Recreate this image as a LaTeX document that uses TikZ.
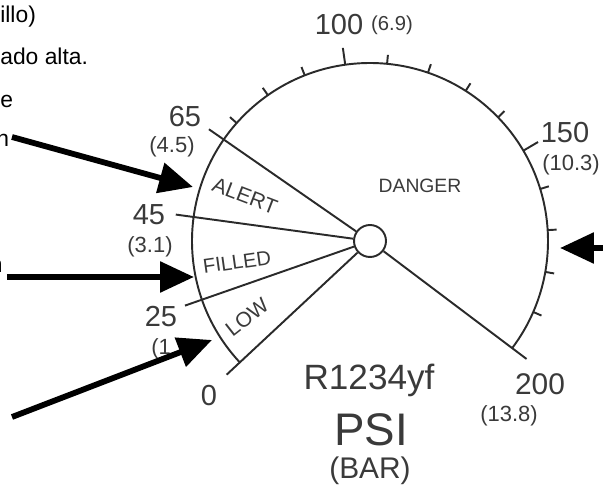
\documentclass[tikz,border=0pt]{standalone}
\usepackage{fontspec}
\setmainfont{Liberation Sans}
\usepackage{tikz}
\usetikzlibrary{arrows.meta,positioning,calc}
\definecolor{dialgray}{HTML}{2A2A2A}
\definecolor{inkgray}{HTML}{3A3A3A}

\begin{document}
\begin{tikzpicture}[
  x=0.02cm,y=0.02cm,
  dial/.style={draw=dialgray,line width=1.1pt},
  psi/.style={font=\fontsize{16.5}{16.5}\selectfont,text=inkgray,inner sep=0pt},
  bar/.style={font=\fontsize{12.5}{12.5}\selectfont,text=inkgray,inner sep=0pt},
  zone/.style={font=\fontsize{#1}{#1}\selectfont,text=inkgray,inner sep=0pt},
  side/.style={font=\fontsize{13}{13}\selectfont,text=black,anchor=base west,inner sep=0pt},
  pointer/.style={line width=3.3pt,-{Triangle[length=0.68cm,width=0.6cm]}},
]
  \useasboundingbox (0,0) rectangle (603,491);
  \clip (0,0) rectangle (603,491);
  \coordinate (c) at (370,250);
  \begin{scope}[shift={(c)}]
    \draw[dial] (223:178) arc[start angle=223,end angle=-37,radius=178];
    \node[circle,dial,minimum size=0.64cm,inner sep=0pt] (hub) at (0,0) {};
    \foreach \a in {223,199.25,172.25,145.25,-37}
      \draw[dial] (hub) -- (\a:196);
    \foreach \p in {100,150}
      \draw[dial] ({233-1.35*\p}:178) -- ({233-1.35*\p}:195);
    \foreach \p in {70,80,90,110,120,130,140,160,170,180,190}
      \draw[dial] ({233-1.35*\p}:178) -- ({233-1.35*\p}:187);
  \end{scope}

  \node[psi] (l65) at (185,374) {65};
  \node[bar] (b65) at (172,344) {(4.5)};
  \node[psi] (l45) at (149,276) {45};
  \node[bar] (b45) at (150,244) {(3.1)};
  \node[psi] (l25) at (161,174) {25};
  \node[bar,anchor=west] (b25) at (151,142) {(1};
  \node[psi] (l0) at (209,95) {0};
  \node[psi] (l100) at (339,466) {100};
  \node[zone=11.5] (b100) at (392,466) {(6.9)};
  \node[psi] (l150) at (565,358) {150};
  \node[bar] (b150) at (571,326) {(10.3)};
  \node[psi,font=\fontsize{17}{17}\selectfont] (l200) at (540,107) {200};
  \node[bar] (b200) at (509,75) {(13.8)};

  \node[zone=11] (danger) at (420,305) {DANGER};
  \node[zone=12,rotate=-21] (alert) at (245,295) {ALERT};
  \node[zone=11.5,rotate=8] (filled) at (237,229) {FILLED};
  \node[zone=12,rotate=38] (low) at (247,174) {LOW};

  \node[zone=20] (gas) at (369,111) {R1234yf};
  \node[zone=26] (unit) at (371,61) {PSI};
  \node[zone=17] (unit2) at (370,20) {(BAR)};

  \node[side] (t1) at (0,468) {illo)};
  \node[side] (t2) at (0,426) {ado alta.};
  \node[side] (t3) at (0,383) {e};
  \node[side] (t4) at (-4,344) {n};
  \node[side,anchor=base east] (t5) at (3,218) {n};

  \coordinate (a1) at (12,354);
  \coordinate (a1tip) at (193,304);
  \coordinate (a2) at (7,214);
  \coordinate (a2tip) at (194,214);
  \coordinate (a3) at (12,74);
  \coordinate (a3tip) at (212,151);
  \coordinate (a4) at (615,243);
  \coordinate (a4tip) at (560,243);
  \draw[pointer] (a1) -- (a1tip);
  \draw[pointer] (a2) -- (a2tip);
  \draw[pointer] (a3) -- (a3tip);
  \draw[pointer] (a4) -- (a4tip);
\end{tikzpicture}
\end{document}
